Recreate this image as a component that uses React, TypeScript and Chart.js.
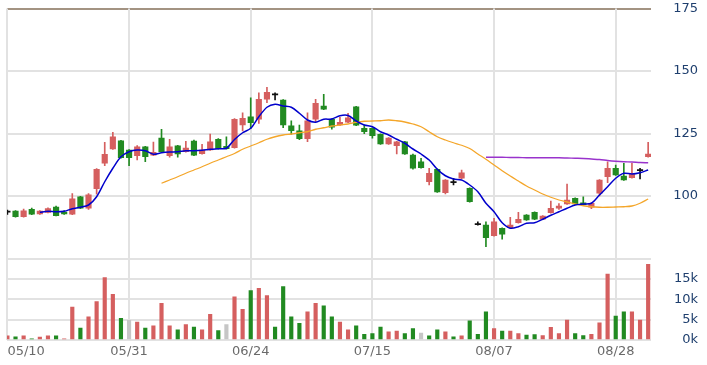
import React, { useEffect, useRef } from 'react';
import { Chart, registerables } from 'chart.js';
Chart.register(...registerables);

const tickIdx = [0, 15, 30, 45, 60, 75];
const tickLabels = ['05/10', '05/31', '06/24', '07/15', '08/07', '08/28'];

const openP = [93.5, 94.0, 91.7, 94.7, 92.8, 93.4, 95.6, 93.6, 92.7, 99.7,
  95.1, 102.9, 113.1, 118.8, 122.1, 118.4, 116.1, 119.7, 116.3, 123.2,
  116.1, 120.1, 117.7, 122.0, 116.9, 118.4, 122.7, 119.9, 119.3, 128.4,
  131.7, 130.7, 138.7, 140.4, 138.4, 128.1, 126.1, 122.9, 130.7, 136.0,
  130.7, 128.4, 129.5, 135.7, 127.1, 127.1, 124.7, 120.8, 120.1, 121.7,
  116.4, 113.7, 105.7, 110.7, 101.3, 105.3, 107.1, 103.1, 88.5, 88.4,
  84.1, 87.1, 87.3, 89.3, 92.4, 93.5, 90.7, 93.3, 95.1, 96.8,
  99.1, 97.3, 95.5, 101.1, 107.7, 111.1, 108.0, 107.3, 110.1, 115.7];

const closeP = [93.5, 91.7, 94.1, 92.7, 94.0, 95.0, 92.1, 92.8, 98.9, 95.1,
  100.5, 110.7, 116.7, 123.7, 115.3, 115.3, 119.7, 115.7, 117.5, 117.7,
  119.7, 116.8, 119.2, 116.3, 118.4, 121.7, 118.9, 118.9, 130.7, 131.1,
  129.3, 138.7, 141.5, 140.4, 128.4, 126.1, 122.9, 130.1, 137.1, 134.7,
  127.5, 129.5, 131.3, 128.3, 125.7, 124.1, 120.8, 123.2, 121.7, 116.8,
  111.1, 111.3, 109.1, 101.6, 106.4, 105.3, 109.3, 97.7, 88.5, 83.3,
  89.7, 84.7, 88.4, 90.7, 90.4, 90.7, 92.0, 95.1, 96.0, 98.4,
  96.8, 96.5, 97.1, 106.4, 111.1, 108.4, 106.4, 109.1, 110.1, 116.8];

const highP = [94.4, 94.2, 94.8, 95.2, 94.2, 95.3, 96.0, 94.2, 101.0, 99.9,
  101.0, 111.0, 121.5, 125.5, 122.3, 118.6, 120.2, 119.9, 121.6, 126.7,
  122.7, 120.3, 121.9, 122.4, 120.7, 124.8, 123.0, 123.7, 131.0, 133.3,
  139.3, 141.3, 143.5, 141.3, 138.6, 130.1, 128.4, 133.3, 138.7, 140.7,
  130.9, 131.5, 133.1, 135.9, 128.4, 127.3, 124.9, 123.4, 121.9, 121.9,
  116.8, 115.1, 111.1, 110.9, 106.6, 107.1, 110.4, 103.3, 89.7, 89.7,
  91.1, 87.3, 91.5, 93.5, 92.6, 93.7, 92.2, 98.0, 97.0, 104.8,
  99.3, 99.7, 97.3, 106.6, 113.7, 112.4, 113.1, 113.1, 111.1, 121.5];

const lowP = [92.6, 91.5, 91.5, 92.5, 92.6, 93.2, 92.0, 92.6, 92.5, 94.9,
  94.6, 100.7, 112.1, 118.6, 115.1, 112.1, 114.4, 113.7, 116.1, 117.5,
  115.5, 115.5, 117.5, 116.1, 116.7, 118.2, 118.7, 118.7, 119.1, 126.0,
  127.0, 129.0, 137.3, 138.4, 127.3, 124.7, 122.5, 121.7, 129.6, 134.5,
  126.7, 128.2, 129.3, 128.1, 124.9, 123.1, 120.6, 120.6, 116.8, 116.6,
  110.7, 111.1, 104.4, 101.4, 100.8, 104.4, 106.9, 97.5, 88.3, 79.7,
  83.9, 82.7, 87.1, 89.1, 90.2, 90.5, 90.5, 93.1, 94.6, 96.6,
  96.6, 96.3, 94.9, 100.0, 105.3, 108.2, 106.2, 107.1, 106.8, 115.5];

// volume in thousands
const volK = [1.0, 0.8, 1.0, 0.3, 0.7, 1.0, 1.0, 0.3, 8.1, 2.9,
  5.7, 9.4, 15.3, 11.2, 5.3, 4.8, 4.4, 2.9, 3.5, 9.0,
  3.5, 2.5, 3.8, 3.2, 2.5, 6.3, 2.3, 3.8, 10.6, 7.5,
  12.1, 12.7, 10.9, 3.2, 13.1, 5.7, 4.1, 6.9, 9.0, 8.4,
  5.7, 4.4, 2.5, 3.5, 1.4, 1.6, 3.2, 2.0, 2.2, 1.6,
  2.8, 1.7, 1.0, 2.5, 2.0, 0.8, 1.0, 4.7, 1.4, 6.9,
  2.8, 2.2, 2.2, 1.6, 1.2, 1.3, 1.1, 3.1, 1.6, 4.9,
  1.6, 1.1, 1.4, 4.2, 16.2, 5.9, 6.9, 6.9, 4.9, 18.6];

// u = up (red), d = down (green), n = unchanged (gray)
const volDir = ['u','d','u','d','u','u','d','u','u','d',
  'u','u','u','u','d','n','u','d','u','u',
  'u','d','u','d','u','u','d','n','u','u',
  'd','u','u','d','d','d','d','u','u','d',
  'd','u','u','d','d','d','d','u','u','d',
  'd','n','d','d','u','d','u','d','d','d',
  'u','d','u','u','d','d','u','u','u','u',
  'd','d','u','u','u','d','d','u','u','u'];

const ma5 = [null, null, null, null, 93.5, 93.9, 93.7, 93.9, 94.9, 95.5,
  96.4, 99.7, 105.7, 111.1, 115.7, 117.7, 118.4, 118.1, 116.7, 117.3,
  117.6, 117.7, 118.1, 118.1, 118.3, 118.7, 118.9, 119.1, 122.6, 125.3,
  127.1, 131.7, 135.5, 136.7, 136.0, 135.5, 133.1, 130.4, 129.5, 130.7,
  130.8, 132.1, 132.2, 130.0, 128.4, 127.7, 125.7, 124.4, 122.7, 121.1,
  118.8, 116.8, 114.4, 110.7, 108.1, 106.8, 106.4, 104.4, 101.7, 97.1,
  93.7, 89.3, 87.1, 87.7, 89.1, 89.3, 90.7, 92.3, 93.7, 95.1,
  96.4, 96.8, 97.1, 100.4, 103.7, 107.1, 109.1, 108.8, 109.3, 110.4];

const ma20 = [null, null, null, null, null, null, null, null, null, null,
  null, null, null, null, null, null, null, null, null, 105.1,
  106.4, 107.7, 109.1, 110.4, 111.7, 113.1, 114.4, 115.7, 117.0, 118.7,
  120.0, 121.3, 122.7, 123.7, 124.4, 124.8, 125.3, 125.7, 126.7, 127.3,
  128.0, 128.4, 128.8, 129.5, 129.9, 130.0, 130.1, 130.4, 130.1, 129.6,
  128.8, 127.7, 125.7, 123.7, 122.4, 121.3, 120.3, 119.0, 116.8, 114.7,
  112.4, 110.1, 108.0, 106.0, 104.0, 102.4, 100.8, 99.5, 98.4, 97.6,
  96.8, 96.1, 95.7, 95.5, 95.5, 95.6, 95.7, 96.0, 97.1, 98.8];

const ma60 = [null, null, null, null, null, null, null, null, null, null,
  null, null, null, null, null, null, null, null, null, null,
  null, null, null, null, null, null, null, null, null, null,
  null, null, null, null, null, null, null, null, null, null,
  null, null, null, null, null, null, null, null, null, null,
  null, null, null, null, null, null, null, null, null, 115.5,
  115.5, 115.5, 115.4, 115.4, 115.3, 115.3, 115.3, 115.3, 115.3, 115.2,
  115.1, 115.0, 114.8, 114.6, 114.2, 113.9, 113.7, 113.6, 113.4, 113.3];

const RED = '#d55f5f';
const GREEN = '#218a21';
const GRAY = '#c6c6c6';
const GRID = '#e2e2e2';
const FONT = { family: 'DejaVu Sans', size: 13 };
const X_MIN = -0.05;
const X_MAX = 79.35;

function candleColor(i: number) {
  if (closeP[i] > openP[i]) return RED;
  if (closeP[i] < openP[i]) return GREEN;
  return '#111111';
}

function lineData(arr: (number | null)[]) {
  const out: { x: number; y: number }[] = [];
  arr.forEach((v, i) => { if (v !== null) out.push({ x: i, y: v }); });
  return out;
}

// vertical grid lines at the date ticks, drawn behind the candles
const verticalGrid = {
  id: 'verticalGrid',
  beforeDatasetsDraw(chart: any) {
    const ctx = chart.ctx;
    const area = chart.chartArea;
    const xs = chart.scales.x;
    ctx.save();
    ctx.strokeStyle = GRID;
    ctx.lineWidth = 2;
    for (let k = 0; k < tickIdx.length; k++) {
      const px = Math.round(xs.getPixelForValue(tickIdx[k]));
      ctx.beginPath();
      ctx.moveTo(px, area.top);
      ctx.lineTo(px, area.bottom);
      ctx.stroke();
    }
    ctx.restore();
  },
};

export default function App() {
  const ref = useRef<HTMLCanvasElement | null>(null);
  useEffect(() => {
    if (!ref.current) return;
    const idx = openP.map((_, i) => i);
    const chart = new Chart(ref.current, {
      type: 'bar',
      data: {
        datasets: [
          { type: 'line', data: lineData(ma5), borderColor: '#0000cc', borderWidth: 1.5, pointRadius: 0, tension: 0.3, yAxisID: 'y', xAxisID: 'x', order: 0 } as any,
          { type: 'line', data: lineData(ma20), borderColor: '#f4a62a', borderWidth: 1.3, pointRadius: 0, tension: 0.3, yAxisID: 'y', xAxisID: 'x', order: 0 } as any,
          { type: 'line', data: lineData(ma60), borderColor: '#9933cc', borderWidth: 1.5, pointRadius: 0, tension: 0.3, yAxisID: 'y', xAxisID: 'x', order: 0 } as any,
          {
            type: 'bar', data: idx.map(i => ({ x: i, y: [Math.min(openP[i], closeP[i]), Math.max(openP[i], closeP[i])] })),
            backgroundColor: idx.map(candleColor), barThickness: 5.5, grouped: false, minBarLength: 1.2,
            yAxisID: 'y', xAxisID: 'x', order: 1,
          } as any,
          {
            type: 'bar', data: idx.map(i => ({ x: i, y: [lowP[i], highP[i]] })),
            backgroundColor: idx.map(candleColor), barThickness: 1, grouped: false,
            yAxisID: 'y', xAxisID: 'x', order: 2,
          } as any,
          {
            type: 'bar', data: idx.map(i => ({ x: i, y: volK[i] * 1000 })),
            backgroundColor: idx.map(i => volDir[i] === 'u' ? RED : volDir[i] === 'd' ? GREEN : GRAY),
            barThickness: 3.5, grouped: false, yAxisID: 'yv', xAxisID: 'x', order: 3,
          } as any,
        ],
      },
      options: {
        animation: false,
        responsive: false,
        devicePixelRatio: 1,
        layout: { padding: { left: 7, right: 9, top: 8.5, bottom: 0 } },
        plugins: { legend: { display: false }, tooltip: { enabled: false } },
        scales: {
          x: {
            type: 'linear', min: X_MIN, max: X_MAX, offset: false,
            afterBuildTicks: (s: any) => { s.ticks = [...tickIdx.map(v => ({ value: v })), { value: X_MAX }]; },
            afterFit: (s: any) => { s.height = 25; s.paddingLeft = 0; s.paddingRight = 0; },
            ticks: {
              autoSkip: false, maxRotation: 0, minRotation: 0, align: 'inner', padding: 4,
              color: '#6a6a6a', font: FONT,
              callback: (v: any) => { const k = tickIdx.indexOf(v); return k >= 0 ? tickLabels[k] : ''; },
            },
            grid: { display: false, offset: false, drawTicks: false },
            border: { display: false },
          },
          y: {
            type: 'linear', position: 'right', stack: 'main', stackWeight: 250, min: 75, max: 175,
            afterFit: (s: any) => { s.width = 47; },
            ticks: {
              stepSize: 25, autoSkip: false, crossAlign: 'far', padding: 0, color: '#1f3f6e', font: FONT,
              callback: (v: any) => (v === 75 ? '' : String(v)),
            },
            grid: {
              color: (c: any) => (c.tick && c.tick.value === 175 ? '#a39382' : GRID),
              lineWidth: 2,
              drawTicks: false,
            },
            border: { display: false },
          },
          yv: {
            type: 'linear', position: 'right', stack: 'main', stackWeight: 81.5, min: 0, max: 20000,
            afterFit: (s: any) => { s.width = 47; },
            ticks: {
              stepSize: 5000, autoSkip: false, crossAlign: 'far', padding: 0, color: '#1f3f6e', font: FONT,
              callback: (v: any) => (v === 20000 ? '' : (v / 1000) + 'k'),
            },
            grid: { color: GRID, lineWidth: 2, drawTicks: false },
            border: { display: false },
          },
        },
      } as any,
      plugins: [verticalGrid],
    });
    return () => chart.destroy();
  }, []);
  return (
    <div style={{ position: 'absolute', left: 0, top: 0, width: 707, height: 365, background: '#fff' }}>
      <canvas ref={ref} width={707} height={365} />
    </div>
  );
}
